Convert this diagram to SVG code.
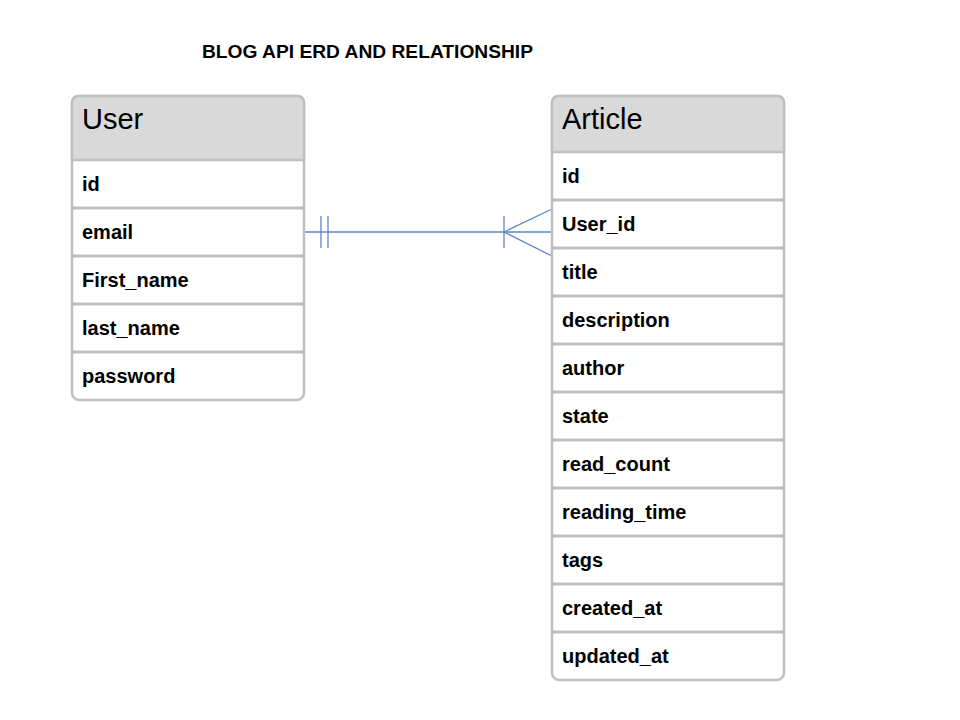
<svg xmlns="http://www.w3.org/2000/svg" width="960" height="720" viewBox="0 0 960 720">
<style>
.box{fill:#ffffff;stroke:#bfbfbf;stroke-width:2.5}
.hdr{fill:#d9d9d9;stroke:#bfbfbf;stroke-width:2.5}
.sep{stroke:#bfbfbf;stroke-width:3}
.ht{font-family:"Liberation Sans",Arial,sans-serif;font-size:29px;fill:#000}
.rt{font-family:"Liberation Sans",Arial,sans-serif;font-size:20px;font-weight:bold;fill:#000}
.title{font-family:"Liberation Sans",Arial,sans-serif;font-size:18px;font-weight:bold;fill:#000}
.con{stroke:#5b87c5;stroke-width:1.3;fill:none}
</style>
<rect width="960" height="720" fill="#ffffff"/>
<text class="title" x="202" y="58" textLength="331" lengthAdjust="spacingAndGlyphs">BLOG API ERD AND RELATIONSHIP</text>

<g id="connectors">
<line class="con" x1="304" y1="232" x2="552" y2="232"/>
<line class="con" x1="321" y1="216" x2="321" y2="248"/>
<line class="con" x1="328" y1="216" x2="328" y2="248"/>
<line class="con" x1="504" y1="216" x2="504" y2="248"/>
<line class="con" x1="504" y1="232" x2="552" y2="209"/>
<line class="con" x1="504" y1="232" x2="552" y2="256"/>
</g>

<g id="user">
<rect class="box" x="72" y="96" width="232" height="304" rx="7"/>
<path class="hdr" d="M72,160 V103 Q72,96 79,96 H297 Q304,96 304,103 V160 Z"/>
<line class="sep" x1="72" y1="208" x2="304" y2="208"/>
<line class="sep" x1="72" y1="256" x2="304" y2="256"/>
<line class="sep" x1="72" y1="304" x2="304" y2="304"/>
<line class="sep" x1="72" y1="352" x2="304" y2="352"/>
<text class="ht" x="82" y="129">User</text>
<text class="rt" x="82" y="191">id</text>
<text class="rt" x="82" y="239">email</text>
<text class="rt" x="82" y="287">First_name</text>
<text class="rt" x="82" y="335">last_name</text>
<text class="rt" x="82" y="383">password</text>
</g>

<g id="article">
<rect class="box" x="552" y="96" width="232" height="584" rx="7"/>
<path class="hdr" d="M552,152 V103 Q552,96 559,96 H777 Q784,96 784,103 V152 Z"/>
<line class="sep" x1="552" y1="200" x2="784" y2="200"/>
<line class="sep" x1="552" y1="248" x2="784" y2="248"/>
<line class="sep" x1="552" y1="296" x2="784" y2="296"/>
<line class="sep" x1="552" y1="344" x2="784" y2="344"/>
<line class="sep" x1="552" y1="392" x2="784" y2="392"/>
<line class="sep" x1="552" y1="440" x2="784" y2="440"/>
<line class="sep" x1="552" y1="488" x2="784" y2="488"/>
<line class="sep" x1="552" y1="536" x2="784" y2="536"/>
<line class="sep" x1="552" y1="584" x2="784" y2="584"/>
<line class="sep" x1="552" y1="632" x2="784" y2="632"/>
<text class="ht" x="562" y="129">Article</text>
<text class="rt" x="562" y="183">id</text>
<text class="rt" x="562" y="231">User_id</text>
<text class="rt" x="562" y="279">title</text>
<text class="rt" x="562" y="327">description</text>
<text class="rt" x="562" y="375">author</text>
<text class="rt" x="562" y="423">state</text>
<text class="rt" x="562" y="471">read_count</text>
<text class="rt" x="562" y="519">reading_time</text>
<text class="rt" x="562" y="567">tags</text>
<text class="rt" x="562" y="615">created_at</text>
<text class="rt" x="562" y="663">updated_at</text>
</g>
</svg>
